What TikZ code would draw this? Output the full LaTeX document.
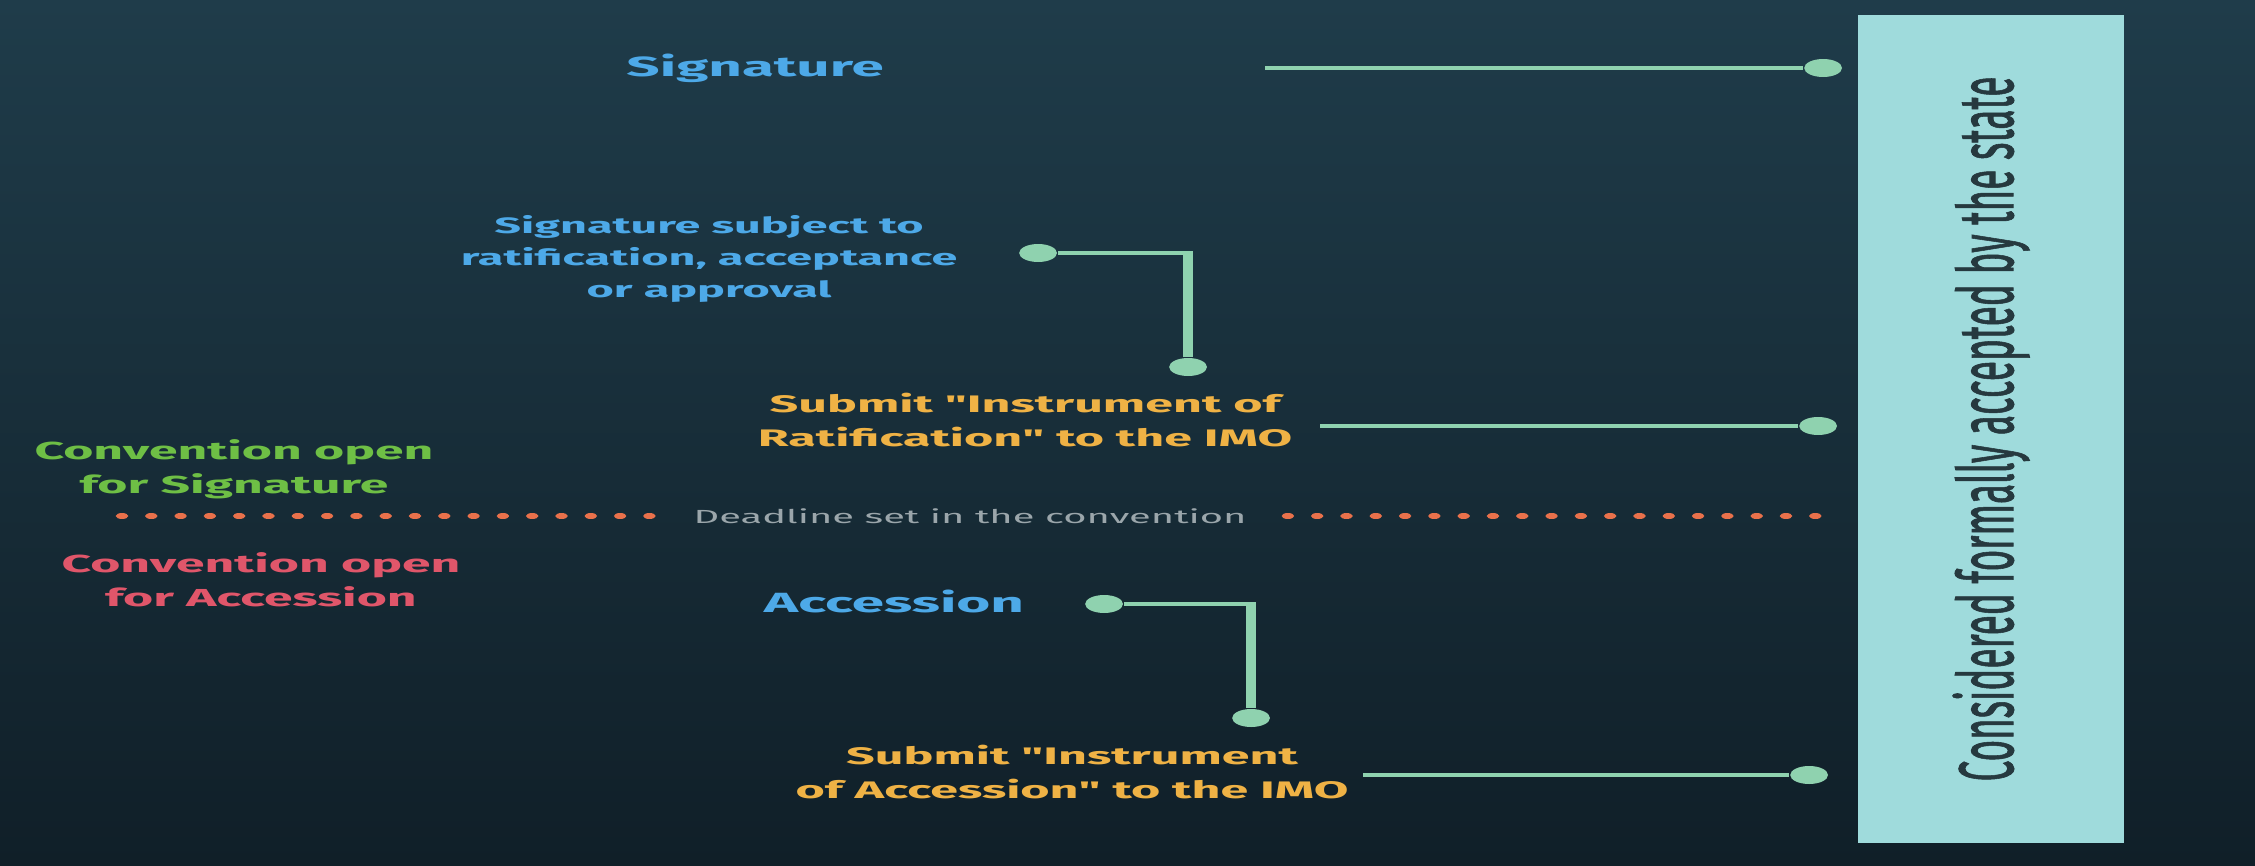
\documentclass[tikz,border=0pt]{standalone}
\usepackage{fontspec}
\setmainfont{Fira Sans}
\newfontfamily\heavy{Fira Sans}[FakeBold = 1.4]
\usetikzlibrary{shapes}

\definecolor{bgtop}{HTML}{1F3C4A}
\definecolor{bgbot}{HTML}{101F28}
\definecolor{panelfill}{HTML}{9FDBDC}
\definecolor{paneltext}{HTML}{26393F}
\definecolor{sigblue}{HTML}{4DA9E8}
\definecolor{submitorange}{HTML}{EFB245}
\definecolor{opengreen}{HTML}{6EBF45}
\definecolor{openred}{HTML}{E0566A}
\definecolor{deadgray}{HTML}{9BA6AB}
\definecolor{deadorange}{HTML}{E9714B}
\definecolor{mint}{HTML}{8FD2AF}

\tikzset{
  stage/.style = {text = sigblue, align = center, inner sep = 0pt, font = \bfseries\fontsize{7.9}{9.5}\selectfont},
  submit/.style = {text = submitorange, align = center, inner sep = 0pt, font = \bfseries\fontsize{6.8}{9.4}\selectfont},
  phase/.style = {align = center, inner sep = 0pt, font = \bfseries\fontsize{7}{9.6}\selectfont},
  knob/.style = {circle, fill = mint, inner sep = 0pt, minimum size = 1.8mm},
  link/.style = {draw = mint, line width = 1.4pt},
  cutoff/.style = {draw = deadorange, line width = 1.7pt, line cap = round, dash pattern = on 0pt off 3.97pt}
}

\begin{document}
\begin{tikzpicture}[x = 0.1mm, y = -0.1mm]
\useasboundingbox (0,0) rectangle (2255,865);
\shade[top color = bgtop, bottom color = bgbot] (0,0) rectangle (2255,865);

\begin{scope}[x = 0.047619mm, transform canvas = {xscale = 2.1}]
\draw (1991,429) node[name = panel, rotate = 90, fill = panelfill, text = paneltext, minimum width = 82.8mm, minimum height = 12.67mm, font = \heavy\fontsize{10.5}{12}\selectfont]{Considered formally accepted by the state};

\draw (755,68) node[name = sig, stage]{Signature};
\draw (709,259) node[name = sigsub, stage, font = \bfseries\fontsize{6.33}{9.1}\selectfont]{Signature subject to\\ratification, acceptance\\or approval};
\draw (1025,420) node[name = subrat, submit]{Submit \textquotedbl Instrument of\\Ratification\textquotedbl{} to the IMO};
\draw (234,469) node[name = opensig, phase, text = opengreen]{Convention open\\for Signature};
\draw (970,516) node[name = deadline, inner ysep = 0pt, inner xsep = 1.9mm, text = deadgray, font = \fontsize{5.4}{6.5}\selectfont]{Deadline set in the convention};
\draw (261,580) node[name = openacc, phase, text = openred]{Convention open\\for Accession};
\draw (894,601) node[name = acc, stage]{Accession};
\draw (1072,772) node[name = subacc, submit]{Submit \textquotedbl Instrument\\of Accession\textquotedbl{} to the IMO};

% dots
\draw (1823,68) node[name = sigdot, knob]{};
\draw (1038,253) node[name = subjdot, knob]{};
\draw (1188,367) node[name = ratdot, knob]{};
\draw (1818,426) node[name = ratend, knob]{};
\draw (1104,604) node[name = accdot, knob]{};
\draw (1251,718) node[name = accinst, knob]{};
\draw (1809,775) node[name = accend, knob]{};

\coordinate (sigstart) at (1265,68);
\coordinate (ratstart) at (1320,426);
\coordinate (accstart) at (1363,775);
\coordinate (cutleft) at (122,516);
\coordinate (cutright) at (1820,516);

\draw[link] (sigstart) -- (sigdot);
\draw[link] (subjdot) -| (ratdot);
\draw[link] (ratstart) -- (ratend);
\draw[link] (accdot) -| (accinst);
\draw[link] (accstart) -- (accend);

\draw[cutoff] (cutleft) -- (deadline.west);
\draw[cutoff] (deadline.east) -- (cutright);
\end{scope}
\end{tikzpicture}
\end{document}
